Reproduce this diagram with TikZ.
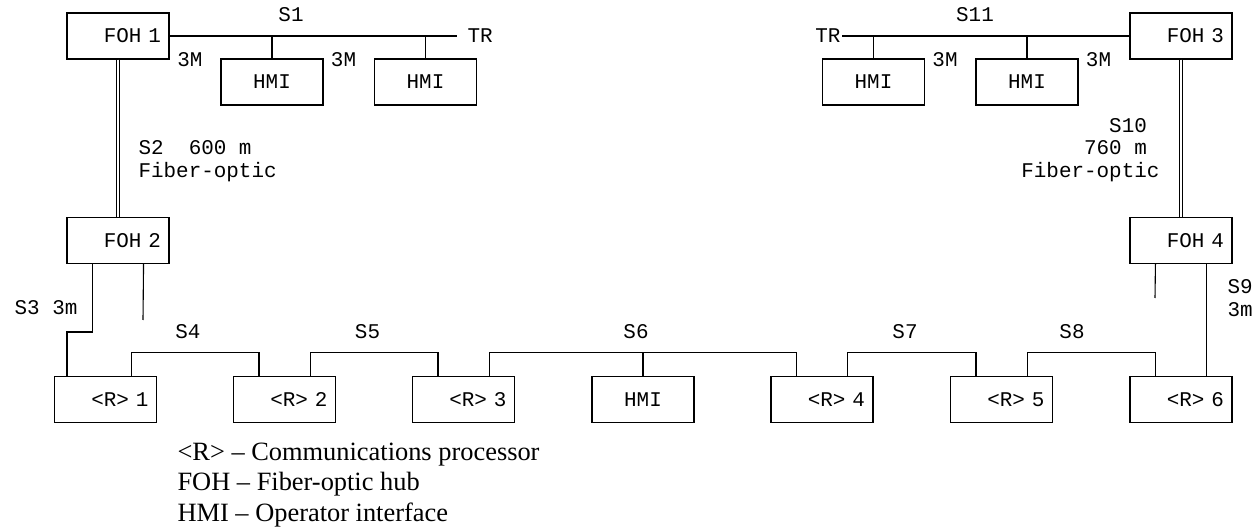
\documentclass[tikz,border=0pt]{standalone}
\usepackage{fontspec}
\setmainfont{Liberation Serif}
\setmonofont{Liberation Mono}
\usetikzlibrary{calc}

\begin{document}
\begin{tikzpicture}[x=1bp, y=-1bp, line width=1.1bp,
  font=\ttfamily\fontsize{21}{22.5}\selectfont,
  devbox/.style={shape=rectangle, draw, minimum width=102bp, minimum height=46bp,
    inner xsep=8bp, inner ysep=0pt, text width=86bp, align=right},
  hmibox/.style={devbox, align=center},
  seglabel/.style={inner sep=0pt},
  fiber/.style={double, double distance=2.2bp, line width=0.9bp}]
\useasboundingbox (0,0) rectangle (1259,531);

% hubs
\node at (118, 36) [devbox] (foh1) {FOH\ 1};
\node at (118, 240.5) [devbox] (foh2) {FOH\ 2};
\node at (1181, 36) [devbox] (foh3) {FOH\ 3};
\node at (1181, 240.5) [devbox] (foh4) {FOH\ 4};

% operator stations
\node at (272, 82) [hmibox] (hmi1) {HMI};
\node at (425.5, 82) [hmibox] (hmi2) {HMI};
\node at (873.5, 82) [hmibox] (hmi3) {HMI};
\node at (1027, 82) [hmibox] (hmi4) {HMI};

% processors
\node at (105.5, 399.5) [devbox] (r1) {<R>\ 1};
\node at (284.5, 399.5) [devbox] (r2) {<R>\ 2};
\node at (463.5, 399.5) [devbox] (r3) {<R>\ 3};
\node at (643, 399.5) [hmibox] (hmi5) {HMI};
\node at (822, 399.5) [devbox] (r4) {<R>\ 4};
\node at (1001.5, 399.5) [devbox] (r5) {<R>\ 5};
\node at (1181, 399.5) [devbox] (r6) {<R>\ 6};

% top buses
\node at (457, 36) [seglabel, anchor=west, inner xsep=10bp] (tr1) {TR};
\node at (842, 36) [seglabel, anchor=east, inner xsep=1bp] (tr2) {TR};
\draw (foh1) to (tr1);
\draw (tr2) to (foh3);
\draw (hmi1.north) to (hmi1.north |- foh1.east);
\draw (hmi2.north) to (hmi2.north |- foh1.east);
\draw (hmi3.north) to (hmi3.north |- foh3.west);
\draw (hmi4.north) to (hmi4.north |- foh3.west);
\node at (291, 15) [seglabel] (s1) {S1};
\node at (975, 15) [seglabel] (s11) {S11};
\node at (190, 60) [seglabel] (m1) {3M};
\node at (343.5, 60) [seglabel] (m2) {3M};
\node at (945, 60) [seglabel] (m3) {3M};
\node at (1098.5, 60) [seglabel] (m4) {3M};

% fiber links
\draw [fiber] (foh1) to (foh2);
\draw [fiber] (foh3) to (foh4);
\node at (138, 161) [seglabel, anchor=west, align=left] (s2) {S2\ \ 600\ m\\Fiber-optic};
\node at (1160, 150) [seglabel, anchor=east, align=right] (s10) {S10\hphantom{0}\\760\ m\hphantom{0}\\Fiber-optic};

% drops to the ring
\coordinate (stub2) at (143, 320);
\coordinate (stub4) at (1155, 298);
\draw ($(foh2.south west)+(26,0)$) -- ++(0,68) -| ($(r1.north west)+(13,0)$);
\draw ($(foh2.south east)+(-26,0)$) -- (stub2);
\draw ($(foh4.south west)+(26,0)$) -- (stub4);
\draw ($(foh4.south east)+(-26,0)$) -- ($(r6.north east)+(-26,0)$);
\node at (78, 308) [seglabel, anchor=east] (s3) {S3 3m};
\node at (1227, 298) [seglabel, anchor=west, align=left] (s9) {S9\\3m};

% lower segments
\draw ($(r1.north east)+(-26,0)$) -- ++(0,-23) -| ($(r2.north west)+(26,0)$);
\draw ($(r2.north east)+(-26,0)$) -- ++(0,-23) -| ($(r3.north west)+(26,0)$);
\draw ($(r3.north east)+(-26,0)$) -- ++(0,-23) -| ($(r4.north west)+(26,0)$);
\draw (hmi5.north) -- ++(0,-23);
\draw ($(r4.north east)+(-26,0)$) -- ++(0,-23) -| ($(r5.north west)+(26,0)$);
\draw ($(r5.north east)+(-26,0)$) -- ++(0,-23) -| ($(r6.north west)+(26,0)$);
\node at (188, 332) [seglabel] (s4) {S4};
\node at (367.5, 332) [seglabel] (s5) {S5};
\node at (636, 332) [seglabel] (s6) {S6};
\node at (905, 332) [seglabel] (s7) {S7};
\node at (1072, 332) [seglabel] (s8) {S8};

% key
\node at (177, 485) [seglabel, anchor=west, align=left,
  font=\rmfamily\fontsize{26.5}{30.5}\selectfont] (key)
  {<R> – Communications processor\\FOH – Fiber-optic hub\\HMI – Operator interface};
\end{tikzpicture}
\end{document}
